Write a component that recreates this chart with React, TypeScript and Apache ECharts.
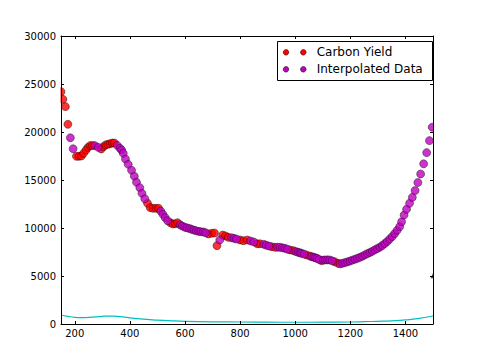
import React, { useEffect, useRef } from "react";
import * as echarts from "echarts";

const xTickValues = [200, 400, 600, 800, 1000, 1200, 1400];

const carbonYield: [number, number][] = [
  [150, 24200], [157, 23400], [166, 22640], [175, 20800],
  [206, 17470], [215, 17470], [224, 17500], [232, 17780], [241, 18125], [248, 18400], [256, 18580], [264, 18600],
  [296, 18230], [304, 18470], [312, 18650], [320, 18720], [328, 18780], [336, 18850], [344, 18850],
  [464, 12570], [474, 12120], [484, 12050], [495, 12050], [504, 12050],
  [547, 10550], [556, 10420], [565, 10450], [573, 10550],
  [685, 9375], [697, 9450], [707, 9480], [716, 8160],
  [737, 9270], [747, 9170], [757, 9030],
  [800, 8750], [812, 8680], [826, 8750],
  [862, 8360], [872, 8360],
  [915, 8050], [927, 7990],
  [981, 7710], [993, 7640],
  [1041, 7190], [1053, 7080],
  [1095, 6600],
  [1143, 6490], [1155, 6320],
];

const interpolated: [number, number][] = [
  [184, 19400], [194, 18260],
  [273, 18580], [285, 18400],
  [354, 18610], [364, 18300], [370, 18125], [376, 17780], [384, 17190], [394, 16630], [406, 16010],
  [416, 15390], [424, 14760], [436, 14200], [444, 13610], [454, 13050],
  [512, 11750], [520, 11420], [528, 11080], [537, 10760],
  [582, 10330], [590, 10200], [599, 10080], [607, 10020], [616, 9950], [624, 9860], [633, 9780],
  [641, 9700], [650, 9650], [658, 9610], [667, 9580], [675, 9500],
  [726, 8750],
  [769, 8990], [778, 8920], [787, 8850],
  [838, 8650], [850, 8540],
  [886, 8300], [895, 8200], [905, 8120],
  [936, 8000], [945, 7990], [954, 7930], [963, 7880], [972, 7790],
  [1002, 7550], [1010, 7470], [1017, 7420], [1023, 7360], [1032, 7280],
  [1060, 7010], [1067, 6950], [1073, 6900], [1079, 6840], [1087, 6720],
  [1102, 6650], [1109, 6670], [1117, 6680], [1125, 6670], [1134, 6580],
  [1163, 6260], [1172, 6330], [1181, 6400], [1190, 6480], [1199, 6560], [1208, 6660], [1217, 6750],
  [1226, 6840], [1235, 6950], [1244, 7060], [1253, 7200], [1262, 7330], [1271, 7450], [1280, 7580],
  [1289, 7730], [1298, 7860], [1307, 8000], [1316, 8180], [1325, 8380], [1334, 8600], [1343, 8850],
  [1352, 9120], [1361, 9420], [1370, 9760], [1379, 10150], [1386, 10650], [1395, 11350], [1404, 11950],
  [1415, 12570], [1425, 13190], [1435, 13900], [1445, 14740], [1455, 15630], [1466, 16690],
  [1477, 17850], [1487, 19100], [1497, 20500],
];

const baseline: [number, number][] = [
  [150, 940], [175, 800], [200, 690], [225, 660], [250, 680], [275, 740], [300, 800], [325, 830],
  [350, 800], [375, 740], [400, 640], [450, 500], [500, 400], [550, 330], [600, 280], [700, 230],
  [800, 210], [900, 190], [1000, 180], [1100, 185], [1200, 210], [1250, 240], [1300, 280],
  [1350, 330], [1400, 420], [1450, 580], [1500, 830],
];

const edgeMarker: [number, number][] = [[1500, 5030]];

const FONT = "DejaVu Sans";

export default function App() {
  const ref = useRef<HTMLDivElement>(null);
  useEffect(() => {
    if (!ref.current) return;
    const chart = echarts.init(ref.current, undefined, { renderer: "svg" });
    const axisLine = { show: true, onZero: false, lineStyle: { color: "#000", width: 1 } };
    const plain = (v: number) => String(v);
    const option: any = {
      animation: false,
      backgroundColor: "#fff",
      grid: { left: 61, top: 36, right: 49, bottom: 37 },
      xAxis: [
        {
          type: "value", min: 150, max: 1500, position: "bottom", z: 10,
          axisLine,
          axisTick: { show: true, inside: true, length: 3, customValues: xTickValues, lineStyle: { color: "#000" } },
          axisLabel: { customValues: xTickValues, formatter: plain, color: "#000", fontSize: 10, fontFamily: FONT, margin: 4 },
          splitLine: { show: false },
        },
        {
          type: "value", min: 150, max: 1500, position: "top", z: 10,
          axisLine,
          axisTick: { show: true, inside: true, length: 3, customValues: xTickValues, lineStyle: { color: "#000" } },
          axisLabel: { show: false },
          splitLine: { show: false },
        },
      ],
      yAxis: [
        {
          type: "value", min: 0, max: 30000, interval: 5000, position: "left", z: 10,
          axisLine,
          axisTick: { show: true, inside: true, length: 3, lineStyle: { color: "#000" } },
          axisLabel: { formatter: plain, color: "#000", fontSize: 10, fontFamily: FONT, margin: 5 },
          splitLine: { show: false },
        },
        {
          type: "value", min: 0, max: 30000, interval: 5000, position: "right", z: 10,
          axisLine,
          axisTick: { show: true, inside: true, length: 3, lineStyle: { color: "#000" } },
          axisLabel: { show: false },
          splitLine: { show: false },
        },
      ],
      series: [
        {
          type: "line", data: baseline, smooth: true, showSymbol: false, symbol: "none",
          lineStyle: { color: "#00bfbf", width: 1.2 }, silent: true, clip: false,
        },
        {
          name: "Carbon Yield", type: "scatter", data: carbonYield, symbol: "circle", symbolSize: 8,
          itemStyle: { color: "#ff0000", borderColor: "#000", borderWidth: 0.5 }, silent: true, clip: false,
        },
        {
          name: "Interpolated Data", type: "scatter", data: interpolated, symbol: "circle", symbolSize: 8,
          itemStyle: { color: "#bf00bf", borderColor: "#000", borderWidth: 0.5 }, silent: true, clip: false,
        },
        {
          type: "scatter", data: edgeMarker, symbol: "triangle", symbolSize: 5,
          itemStyle: { color: "#3a0a3a" }, silent: true, clip: false,
        },
      ],
      graphic: [
        { type: "rect", z: 3, silent: true, shape: { x: 0, y: 0, width: 60.5, height: 361 }, style: { fill: "#fff" } },
        { type: "rect", z: 3, silent: true, shape: { x: 433.5, y: 0, width: 48.5, height: 361 }, style: { fill: "#fff" } },
        { type: "rect", z: 3, silent: true, shape: { x: 0, y: 0, width: 482, height: 35.5 }, style: { fill: "#fff" } },
        { type: "rect", z: 3, silent: true, shape: { x: 0, y: 324.5, width: 482, height: 36.5 }, style: { fill: "#fff" } },
        {
          type: "group", z: 20, silent: true,
          children: [
            { type: "rect", z: 20, shape: { x: 277.5, y: 41.5, width: 155, height: 39 }, style: { fill: "#fff", stroke: "#000", lineWidth: 1 } },
            { type: "circle", z: 21, shape: { cx: 286, cy: 52.3, r: 2.8 }, style: { fill: "#ff0000", stroke: "#000", lineWidth: 0.5 } },
            { type: "circle", z: 21, shape: { cx: 303.3, cy: 52.3, r: 2.8 }, style: { fill: "#ff0000", stroke: "#000", lineWidth: 0.5 } },
            { type: "circle", z: 21, shape: { cx: 286, cy: 69.3, r: 2.8 }, style: { fill: "#bf00bf", stroke: "#000", lineWidth: 0.5 } },
            { type: "circle", z: 21, shape: { cx: 303.3, cy: 69.3, r: 2.8 }, style: { fill: "#bf00bf", stroke: "#000", lineWidth: 0.5 } },
            { type: "text", z: 21, x: 316.7, y: 52.3, style: { text: "Carbon Yield", fill: "#000", fontSize: 12, fontFamily: FONT, textVerticalAlign: "middle", textAlign: "left" } },
            { type: "text", z: 21, x: 316.7, y: 69.3, style: { text: "Interpolated Data", fill: "#000", fontSize: 12, fontFamily: FONT, textVerticalAlign: "middle", textAlign: "left" } },
          ],
        },
      ],
    };
    chart.setOption(option);
    return () => chart.dispose();
  }, []);
  return <div ref={ref} style={{ position: "fixed", left: 0, top: 0, width: 482, height: 361 }} />;
}
